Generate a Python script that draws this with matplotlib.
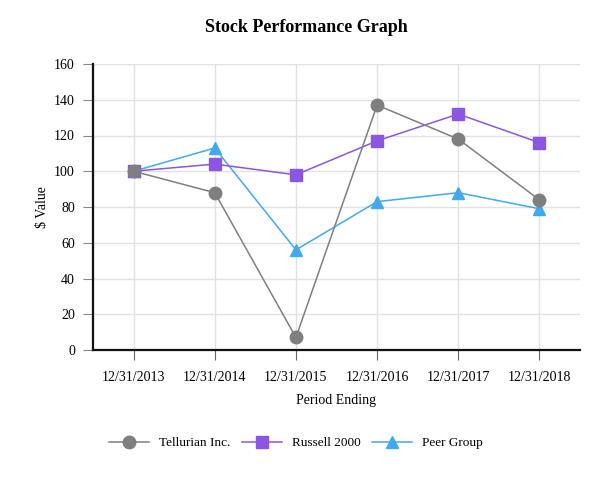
import matplotlib
matplotlib.use("Agg")
import matplotlib.pyplot as plt

periods = ["12/31/2013", "12/31/2014", "12/31/2015", "12/31/2016", "12/31/2017", "12/31/2018"]
tellurian = [100, 88, 7, 137, 118, 84]
russell = [100, 104, 98, 117, 132, 116]
peer = [100, 113, 56, 83, 88, 79]

plt.rcParams['font.family'] = ['Liberation Serif', 'DejaVu Serif']

fig = plt.figure(figsize=(6.13, 4.8), dpi=100)
ax = fig.add_axes([93/613, 1-350/480, (580-93)/613, (350-64)/480])

x = list(range(len(periods)))
ax.plot(x, peer, color="#41a9f0", marker="^", markersize=9, linewidth=1.1, label="Peer Group", zorder=3)
ax.plot(x, russell, color="#8a56e2", marker="s", markersize=9, linewidth=1.1, label="Russell 2000", zorder=4)
ax.plot(x, tellurian, color="#7f7f7f", marker="o", markersize=9, linewidth=1.1, label="Tellurian Inc.", zorder=5)

ax.set_xlim(-0.5, 5.5)
ax.set_ylim(0, 160)
ax.set_yticks(range(0, 161, 20))
ax.set_xticks(x)
ax.set_xticklabels(periods)
ax.grid(True, color="#e2e2e2", linewidth=1)
ax.set_axisbelow(True)
for s in ["top", "right"]:
    ax.spines[s].set_visible(False)
for s in ["left", "bottom"]:
    ax.spines[s].set_linewidth(1.6)
    ax.spines[s].set_color("#111111")
ax.tick_params(axis="y", length=7, color="#888888", labelsize=10, pad=6)
ax.tick_params(axis="x", length=7, color="#666666", labelsize=10, pad=8)
ax.set_xlabel("Period Ending", fontsize=10, labelpad=7)
ax.set_ylabel("$ Value", fontsize=10, labelpad=4)

fig.suptitle("Stock Performance Graph", fontsize=13, fontweight="bold", y=1-27/480, va="center")

h, l = ax.get_legend_handles_labels()
order = [2, 1, 0]
fig.legend([h[i] for i in order], [l[i] for i in order], loc="center", bbox_to_anchor=(296/613, 1-443/480),
           ncol=3, frameon=False, fontsize=9.5, handlelength=3.0, columnspacing=0.9, handletextpad=0.75)

fig.savefig("out.png", dpi=100)
